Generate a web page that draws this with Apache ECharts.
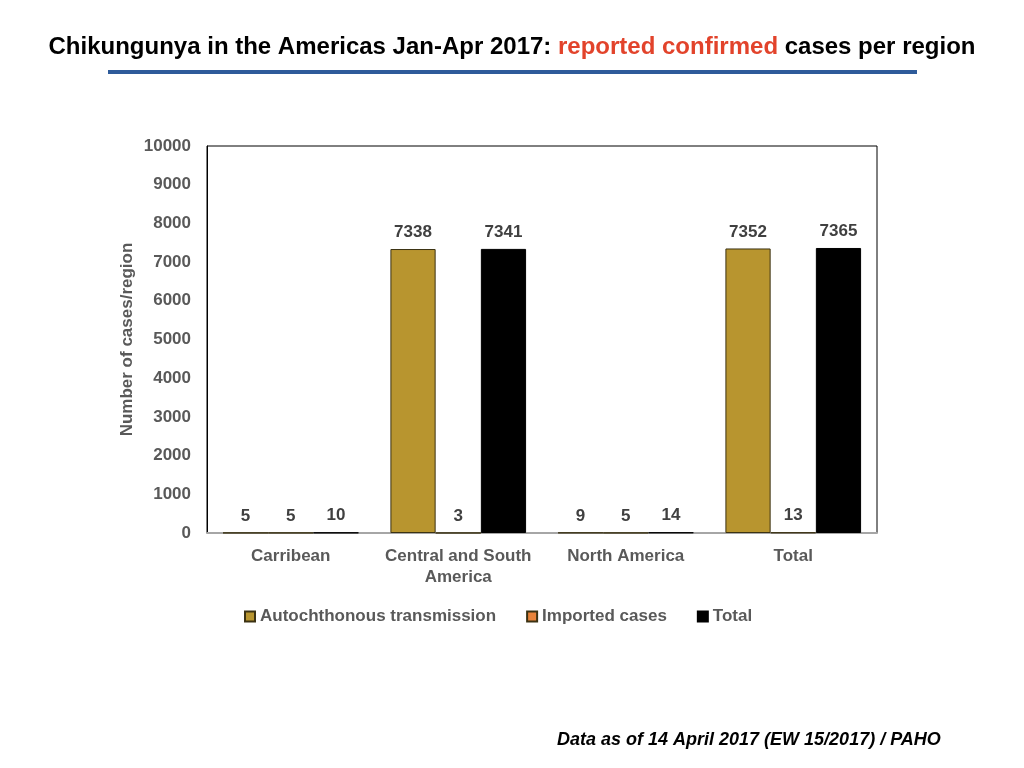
<!DOCTYPE html>
<html>
<head>
<meta charset="utf-8">
<script src="https://cdn.jsdelivr.net/npm/echarts@6/dist/echarts.min.js"></script>
<style>
    html,body{margin:0;padding:0;background:#fff;}
    #main{width:1024px;height:768px;}
</style>
</head>
<body>
<div id="main"></div>
<script>
// 数据
let categories = ['Carribean', 'Central and South\nAmerica', 'North America', 'Total']
let autochthonous = [5, 7338, 9, 7352]
let imported = [5, 3, 5, 13]
let totals = [10, 7341, 14, 7365]
let y_ticks = {min: 0, max: 10000, interval: 1000}

let font = '"Liberation Sans", Arial, Helvetica, sans-serif'
let mychart = echarts.init(document.getElementById('main'))

// 柱子公共样式
let bar_label = {
    show: true,
    position: 'top',
    distance: 8,
    color: '#404040',
    fontFamily: font,
    fontWeight: 'bold',
    fontSize: 17
}

mychart.setOption({
    animation: false,
    title: {
        text: '{a|Chikungunya in the Americas Jan-Apr 2017: }{b|reported confirmed}{a| cases per region}',
        left: 'center',
        top: 30,
        textStyle: {
            rich: {
                a: {fontFamily: font, fontWeight: 'bold', fontSize: 24, color: '#000'},
                b: {fontFamily: font, fontWeight: 'bold', fontSize: 24, color: '#E2432B'}
            }
        }
    },
    graphic: [
        {
            type: 'rect',
            shape: {x: 108, y: 70, width: 809, height: 4},
            style: {fill: '#2E5B9A'}
        },
        {
            type: 'text',
            left: 557,
            top: 731,
            style: {
                text: 'Data as of 14 April 2017 (EW 15/2017) / PAHO',
                fontFamily: font,
                fontWeight: 'bold',
                fontStyle: 'italic',
                fontSize: 18,
                fill: '#000'
            }
        }
    ],
    legend: {
        left: 239,
        top: 603,
        icon: 'rect',
        itemWidth: 10,
        itemHeight: 10,
        itemGap: 30,
        textStyle: {fontFamily: font, fontWeight: 'bold', fontSize: 17, color: '#595959'},
        data: ['Autochthonous transmission', 'Imported cases', 'Total']
    },
    grid: {
        left: 207,
        right: 147,
        top: 146,
        bottom: 235,
        show: true,
        borderColor: '#000',
        borderWidth: 1
    },
    xAxis: {
        type: 'category',
        data: categories,
        axisLine: {lineStyle: {color: '#a6a6a6', width: 2}},
        axisTick: {show: false},
        axisLabel: {
            interval: 0,
            margin: 13,
            color: '#595959',
            fontFamily: font,
            fontWeight: 'bold',
            fontSize: 17,
            lineHeight: 21
        }
    },
    yAxis: {
        type: 'value',
        min: y_ticks.min,
        max: y_ticks.max,
        interval: y_ticks.interval,
        name: 'Number of cases/region',
        nameLocation: 'middle',
        nameGap: 71,
        nameMoveOverlap: false,
        nameTextStyle: {color: '#595959', fontFamily: font, fontWeight: 'bold', fontSize: 17},
        splitLine: {show: false},
        axisLine: {show: true, lineStyle: {color: '#000'}},
        axisTick: {show: false},
        axisLabel: {
            margin: 16,
            color: '#595959',
            fontFamily: font,
            fontWeight: 'bold',
            fontSize: 17,
            formatter: v => String(v)
        }
    },
    series: [
        {
            name: 'Autochthonous transmission',
            type: 'bar',
            barGap: '0%',
            barCategoryGap: '19%',
            data: autochthonous,
            itemStyle: {color: '#B8952F', borderColor: '#3b3213', borderWidth: 1},
            label: bar_label
        },
        {
            name: 'Imported cases',
            type: 'bar',
            data: imported,
            itemStyle: {color: '#E8833A', borderColor: '#3b3213', borderWidth: 1},
            label: bar_label
        },
        {
            name: 'Total',
            type: 'bar',
            data: totals,
            itemStyle: {color: '#000', borderColor: '#000', borderWidth: 1},
            label: bar_label
        }
    ]
})
</script>
</body>
</html>
